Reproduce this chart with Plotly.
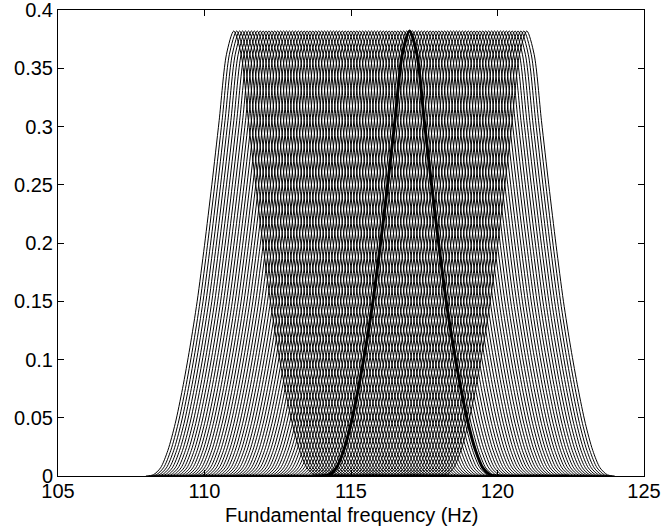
import plotly.graph_objects as go

# Centres (Hz) of the family of curves
CENTERS = [
    111.0, 111.1, 111.2, 111.3, 111.4, 111.5, 111.6, 111.7, 111.8, 111.9,
    112.0, 112.1, 112.2, 112.3, 112.4, 112.5, 112.6, 112.7, 112.8, 112.9,
    113.0, 113.1, 113.2, 113.3, 113.4, 113.5, 113.6, 113.7, 113.8, 113.9,
    114.0, 114.1, 114.2, 114.3, 114.4, 114.5, 114.6, 114.7, 114.8, 114.9,
    115.0, 115.1, 115.2, 115.3, 115.4, 115.5, 115.6, 115.7, 115.8, 115.9,
    116.0, 116.1, 116.2, 116.3, 116.4, 116.5, 116.6, 116.7, 116.8, 116.9,
    117.0, 117.1, 117.2, 117.3, 117.4, 117.5, 117.6, 117.7, 117.8, 117.9,
    118.0, 118.1, 118.2, 118.3, 118.4, 118.5, 118.6, 118.7, 118.8, 118.9,
    119.0, 119.1, 119.2, 119.3, 119.4, 119.5, 119.6, 119.7, 119.8, 119.9,
    120.0, 120.1, 120.2, 120.3, 120.4, 120.5, 120.6, 120.7, 120.8, 120.9,
    121.0,
]

# Shape of one curve: offset from centre (Hz) -> value
OFFSETS = [-3.0, -2.75, -2.5, -2.25, -2.0, -1.75, -1.5, -1.25, -1.0, -0.75, -0.5, -0.25,
           0.0, 0.25, 0.5, 0.75, 1.0, 1.25, 1.5, 1.75, 2.0, 2.25, 2.5, 2.75, 3.0]
VALUES = [0.0, 0.001, 0.007, 0.022, 0.045, 0.075, 0.110, 0.150, 0.198, 0.250, 0.305, 0.362,
          0.382, 0.362, 0.305, 0.250, 0.198, 0.150, 0.110, 0.075, 0.045, 0.022, 0.007, 0.001, 0.0]

# Highlighted curve
BOLD_CENTER = 117.0
BOLD_TAIL_END = 122.4  # bold curve continues along zero up to here

X_TICKS = [105, 110, 115, 120, 125]
Y_TICKS = [0, 0.05, 0.1, 0.15, 0.2, 0.25, 0.3, 0.35, 0.4]
Y_TICK_TEXT = ["0", "0.05", "0.1", "0.15", "0.2", "0.25", "0.3", "0.35", "0.4"]
X_LABEL = "Fundamental frequency (Hz)"

FONT = "Liberation Sans, Arial, Helvetica, sans-serif"
FS = 20

xs, ys = [], []
for c in CENTERS:
    xs.extend([c + o for o in OFFSETS])
    ys.extend(VALUES)
    xs.append(None)
    ys.append(None)

fig = go.Figure()
fig.add_trace(go.Scatter(
    x=xs, y=ys, mode="lines",
    line=dict(color="black", width=1, shape="spline", smoothing=0.8),
    hoverinfo="skip", showlegend=False,
))

bx = [BOLD_CENTER + o for o in OFFSETS] + [BOLD_TAIL_END]
by = list(VALUES) + [0.0]
fig.add_trace(go.Scatter(
    x=bx, y=by, mode="lines",
    line=dict(color="black", width=3, shape="spline", smoothing=0.8),
    hoverinfo="skip", showlegend=False,
))

axis_common = dict(
    showline=True, linecolor="black", linewidth=1, mirror="ticks",
    ticks="inside", ticklen=6, tickcolor="black", tickwidth=1,
    showgrid=False, zeroline=False, automargin=False,
    ticklabeloverflow="allow",
    tickfont=dict(family=FONT, size=FS, color="black"),
)

fig.update_layout(
    width=661, height=532,
    margin=dict(l=58, r=17, t=10, b=56),
    paper_bgcolor="white", plot_bgcolor="white",
    font=dict(family=FONT, size=FS, color="black"),
    xaxis=dict(range=[105, 125], tickvals=X_TICKS, ticktext=[str(t) for t in X_TICKS],
               ticklabelstandoff=-3, **axis_common),
    yaxis=dict(range=[0, 0.4], tickvals=Y_TICKS, ticktext=Y_TICK_TEXT,
               ticklabelstandoff=0, **axis_common),
    annotations=[dict(
        text=X_LABEL, xref="paper", yref="paper", x=0.5, y=-0.0837,
        xanchor="center", yanchor="middle", showarrow=False,
        font=dict(family=FONT, size=FS, color="black"),
    )],
)

fig.write_html("out.html", config={"displayModeBar": False},
               post_script="document.body.style.margin='0';")
